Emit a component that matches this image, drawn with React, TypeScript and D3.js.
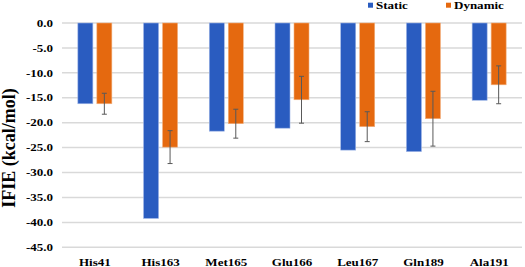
import React, { useEffect, useRef } from 'react';
import * as d3 from 'd3';

const residues = ['His41', 'His163', 'Met165', 'Glu166', 'Leu167', 'Gln189', 'Ala191'];
const staticValues = [-16.2, -39.2, -21.7, -21.1, -25.5, -25.8, -15.5];
const dynamicValues = [-16.2, -24.9, -20.2, -15.4, -20.8, -19.2, -12.4];
const dynamicErrors = [2.1, 3.3, 2.9, 4.7, 3.0, 5.5, 3.8];
const yTicks = [0, -5, -10, -15, -20, -25, -30, -35, -40, -45];

const BLUE = '#2A5CC0';
const ORANGE = '#E5690F';
const FONT = '"Liberation Serif", "Times New Roman", serif';
// the original picture is stretched sideways a little, so its text is too
const STRETCH = 1.24;

const App = () => {
  const ref = useRef<SVGSVGElement>(null);

  useEffect(() => {
    const width = 525;
    const margin = { top: 23, right: 3, left: 62 };
    const innerW = width - margin.left - margin.right;
    const innerH = 247.3 - margin.top;

    const root = d3.select(ref.current);
    root.selectAll('*').remove();

    const svg = root.append('g').attr('transform', `translate(${margin.left},${margin.top})`);

    const x = d3.scaleBand().domain(residues).range([0, innerW]).paddingInner(0).paddingOuter(0);
    const y = d3.scaleLinear().domain([0, -45]).range([0, innerH]);

    const barW = 15;
    const gap = 4;

    // gridlines
    svg.selectAll('.grid')
      .data(yTicks)
      .enter()
      .append('line')
      .attr('x1', 0)
      .attr('x2', innerW)
      .attr('y1', d => y(d))
      .attr('y2', d => y(d))
      .attr('stroke', '#D9D9D9')
      .attr('stroke-width', 1.5);

    // y tick labels
    svg.selectAll('.ytick')
      .data(yTicks)
      .enter()
      .append('text')
      .attr('transform', d => `translate(-9,${y(d)}) scale(${STRETCH},1)`)
      .attr('dy', '0.35em')
      .attr('text-anchor', 'end')
      .style('font-family', FONT)
      .style('font-weight', 'bold')
      .style('font-size', '10.5px')
      .text(d => d.toFixed(1));

    const center = (r: string) => (x(r) as number) + x.bandwidth() / 2;

    // static bars
    svg.selectAll('.static')
      .data(residues)
      .enter()
      .append('rect')
      .attr('x', r => center(r) - gap / 2 - barW)
      .attr('y', y(0))
      .attr('width', barW)
      .attr('height', (r, i) => y(staticValues[i]) - y(0))
      .attr('fill', BLUE)
      .attr('stroke', '#9DB4E6')
      .attr('stroke-width', 0.6);

    // dynamic bars
    svg.selectAll('.dynamic')
      .data(residues)
      .enter()
      .append('rect')
      .attr('x', r => center(r) + gap / 2)
      .attr('y', y(0))
      .attr('width', barW)
      .attr('height', (r, i) => y(dynamicValues[i]) - y(0))
      .attr('fill', ORANGE)
      .attr('stroke', '#F2B07E')
      .attr('stroke-width', 0.6);

    // error bars
    const err = svg.selectAll('.err')
      .data(residues)
      .enter()
      .append('g')
      .attr('transform', r => `translate(${center(r) + gap / 2 + barW / 2},0)`);

    err.append('line')
      .attr('y1', (r, i) => y(dynamicValues[i] + dynamicErrors[i]))
      .attr('y2', (r, i) => y(dynamicValues[i] - dynamicErrors[i]))
      .attr('stroke', '#595959')
      .attr('stroke-width', 1);
    err.append('line')
      .attr('x1', -2.5).attr('x2', 2.5)
      .attr('y1', (r, i) => y(dynamicValues[i] + dynamicErrors[i]))
      .attr('y2', (r, i) => y(dynamicValues[i] + dynamicErrors[i]))
      .attr('stroke', '#595959');
    err.append('line')
      .attr('x1', -2.5).attr('x2', 2.5)
      .attr('y1', (r, i) => y(dynamicValues[i] - dynamicErrors[i]))
      .attr('y2', (r, i) => y(dynamicValues[i] - dynamicErrors[i]))
      .attr('stroke', '#595959');

    // x labels
    svg.selectAll('.xlabel')
      .data(residues)
      .enter()
      .append('text')
      .attr('transform', r => `translate(${center(r)},${innerH + 18.5}) scale(${STRETCH},1)`)
      .attr('text-anchor', 'middle')
      .style('font-family', FONT)
      .style('font-weight', 'bold')
      .style('font-size', '10.5px')
      .text(r => r);

    // y title
    root.append('text')
      .attr('transform', 'translate(15,148) rotate(-90)')
      .attr('text-anchor', 'middle')
      .style('font-family', FONT)
      .style('font-weight', 'bold')
      .style('font-size', '18px')
      .text('IFIE (kcal/mol)');

    // legend
    const items = [
      { label: 'Static', color: BLUE, at: 368 },
      { label: 'Dynamic', color: ORANGE, at: 446 },
    ];
    const li = root.selectAll('.legend')
      .data(items)
      .enter()
      .append('g')
      .attr('transform', d => `translate(${d.at},0)`);
    li.append('rect')
      .attr('x', 0)
      .attr('y', 2.7)
      .attr('width', 5)
      .attr('height', 5)
      .attr('fill', d => d.color);
    li.append('text')
      .attr('transform', `translate(8,9) scale(${STRETCH},1)`)
      .style('font-family', FONT)
      .style('font-weight', 'bold')
      .style('font-size', '10.5px')
      .text(d => d.label);
  }, []);

  return (
    <svg
      ref={ref}
      width={525}
      height={267}
      style={{ position: 'absolute', left: 0, top: 0, background: '#fff' }}
    />
  );
};

export default App;
